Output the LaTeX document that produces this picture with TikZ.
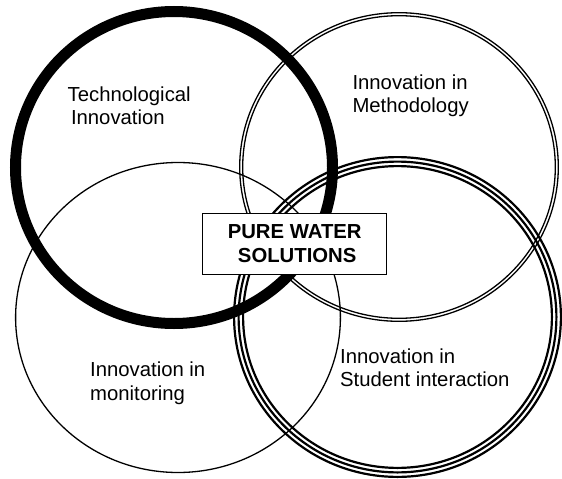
\documentclass[tikz,border=0pt]{standalone}
\usepackage{fontspec}
\setmainfont{Liberation Sans}
\begin{document}
\begin{tikzpicture}[x=1pt,y=-1pt,
  vennline/.style={draw=black, line width=1.3pt},
  tripleline/.style={draw=black, line width=2.2pt},
  venntext/.style={anchor=base west, inner sep=0pt, align=left,
    font=\fontsize{20.3}{23.3}\selectfont},
  corebox/.style={draw=black, fill=white, line width=1.3pt, inner sep=0pt,
    minimum width=184pt, minimum height=60.6pt, align=center,
    font=\fontsize{20.3}{24}\selectfont\bfseries}]
\useasboundingbox (0,0) rectangle (562,479);

% centres of the four areas of innovation
\coordinate (tech) at (174,167.5);
\coordinate (meth) at (399,167);
\coordinate (moni) at (178,317.5);
\coordinate (stud) at (397.5,317);

% monitoring: single thin ring
\draw[vennline] (moni) ellipse [x radius=162.4pt, y radius=155pt];

% methodology: double ring
\draw[vennline] (meth) ellipse [x radius=159.3pt, y radius=154.3pt];
\draw[vennline] (meth) ellipse [x radius=156.3pt, y radius=151.3pt];

% technology: heavy ring
\draw[line width=11pt] (tech) ellipse [x radius=158.5pt, y radius=156pt];

% student interaction: triple ring
\draw[tripleline] (stud) ellipse [x radius=163.4pt, y radius=159.9pt];
\draw[tripleline] (stud) ellipse [x radius=158.9pt, y radius=155.4pt];
\draw[tripleline] (stud) ellipse [x radius=154.4pt, y radius=150.9pt];

% labels of the rings (anchored on the baseline of their last line)
\node[venntext] (techlabel) at (67.5,124.3) {Technological\\\hspace*{3.3pt}Innovation};
\node[venntext] (methlabel) at (352.3,112.6) {Innovation in\\Methodology};
\node[venntext] (monilabel) at (90,400) {Innovation in\\monitoring};
\node[venntext] (studlabel) at (340,386.6) {Innovation in\\Student interaction};

% central box
\node[corebox] (core) at (294.7,244) {PURE WATER\\\hspace*{5pt}SOLUTIONS};
\end{tikzpicture}
\end{document}
